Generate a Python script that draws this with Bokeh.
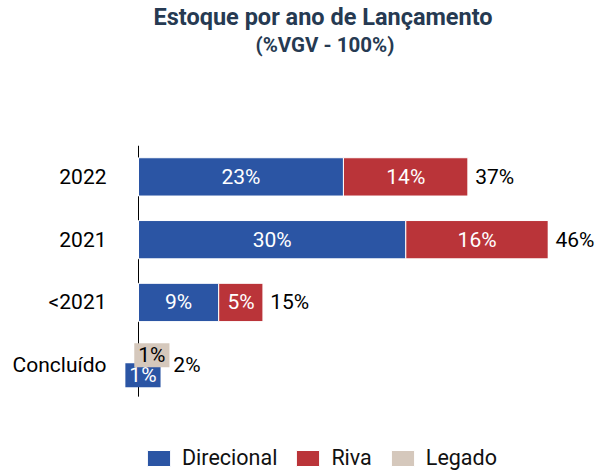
from bokeh.plotting import figure
from bokeh.models import ColumnDataSource, Range1d, Legend, LegendItem, Title, FixedTicker
from bokeh.core.properties import value
from bokeh.embed import file_html
from bokeh.resources import INLINE

categories = ["Concluído", "<2021", "2021", "2022"]
direcional = [1, 9, 30, 23]
riva = [0, 5, 16, 14]
legado = [1, 0, 0, 0]
totals = [2, 15, 46, 37]
series_names = ["Direcional", "Riva", "Legado"]
colors = ["#2B55A4", "#BA3439", "#D5C8BC"]

FONT = "Roboto"
FS = "21px"
TITLE_COLOR = "#263a52"

ypos = list(range(len(categories)))

p = figure(width=600, height=472, x_range=Range1d(-2.245, 51.85), y_range=Range1d(-1.708, 3.5),
           output_backend="svg", toolbar_location=None, title=None,
           min_border_left=118, min_border_right=0, min_border_top=140, min_border_bottom=0)
p.outline_line_color = None
p.xgrid.visible = False
p.ygrid.visible = False
p.xaxis.visible = False
p.background_fill_color = None
p.border_fill_color = "white"

yax = p.yaxis[0]
yax.ticker = FixedTicker(ticks=ypos)
yax.major_label_overrides = {i: c for i, c in zip(ypos, categories)}
yax.axis_line_color = None
yax.major_tick_line_color = None
yax.minor_tick_line_color = None
yax.major_tick_out = 0
yax.major_tick_in = 0
yax.major_label_standoff = 12
yax.major_label_text_font = FONT
yax.major_label_text_font_size = FS
yax.major_label_text_color = "black"

# axis line at x = 0 spanning the category band
p.segment(x0=[0], x1=[0], y0=[ypos[0] - 0.5], y1=[ypos[-1] + 0.5], line_color="black", line_width=1)

src = ColumnDataSource(dict(y=ypos, Direcional=direcional, Riva=riva, Legado=legado))
rends = p.hbar_stack(series_names, y="y", height=0.61, color=colors, source=src,
                     line_color="white", line_width=1)

# segment labels
in_x, in_y, in_t = [], [], []
box_x, box_y, box_t, box_col, box_txtcol, box_off = [], [], [], [], [], []
for i, yy in enumerate(ypos):
    left = 0
    vals = [direcional[i], riva[i], legado[i]]
    small = totals[i] < 5
    for j, v in enumerate(vals):
        if v > 0:
            cx = left + v / 2
            if small:
                box_x.append(cx); box_y.append(yy); box_t.append(f"{v}%")
                box_col.append(colors[j])
                box_txtcol.append("white" if j == 0 else "black")
                box_off.append(10 if j == 0 else -10)
            else:
                in_x.append(cx); in_y.append(yy); in_t.append(f"{v}%")
        left += v

p.text(x=in_x, y=in_y, text=in_t, text_align="center", text_baseline="middle",
       text_color="white", text_font=value(FONT), text_font_size=FS)

bsrc = ColumnDataSource(dict(x=box_x, y=box_y, t=box_t, bg=box_col, tc=box_txtcol, off=box_off))
p.text(x="x", y="y", text="t", source=bsrc, text_align="center", text_baseline="middle",
       text_color="tc", text_font=value(FONT), text_font_size=FS, y_offset="off",
       background_fill_color="bg", padding=dict(left=4, right=4, top=0, bottom=0))

bar_ends = [d + r + l for d, r, l in zip(direcional, riva, legado)]
tot_off = [17 if t < 5 else 7 for t in totals]
tsrc = ColumnDataSource(dict(x=bar_ends, y=ypos, t=[f"{t}%" for t in totals], off=tot_off))
p.text(x="x", y="y", text="t", source=tsrc, text_align="left",
       text_baseline="middle", text_color="black", text_font=value(FONT),
       text_font_size=FS, x_offset="off")

legend = Legend(items=[LegendItem(label=n, renderers=[r]) for n, r in zip(series_names, rends)],
                orientation="horizontal", location=(26, 2), glyph_width=29, glyph_height=20,
                label_standoff=9, spacing=16, padding=0, margin=0,
                label_text_font=FONT, label_text_font_size="21.5px", label_text_color="#111111",
                border_line_color=None, background_fill_alpha=0)
p.add_layout(legend)

# titles (first added is nearest the plot area)
p.add_layout(Title(text=" ", text_font_size="1px", standoff=86), "above")
p.add_layout(Title(text="(%VGV - 100%)", align="left", offset=137, text_font=FONT,
                   text_font_size="20.5px", text_font_style="bold", text_color=TITLE_COLOR,
                   standoff=0), "above")
p.add_layout(Title(text="Estoque por ano de Lançamento", align="left", offset=35, text_font=FONT,
                   text_font_size="23.5px", text_font_style="bold", text_color=TITLE_COLOR,
                   standoff=0), "above")

open("out.html", "w").write(file_html(p, INLINE))
